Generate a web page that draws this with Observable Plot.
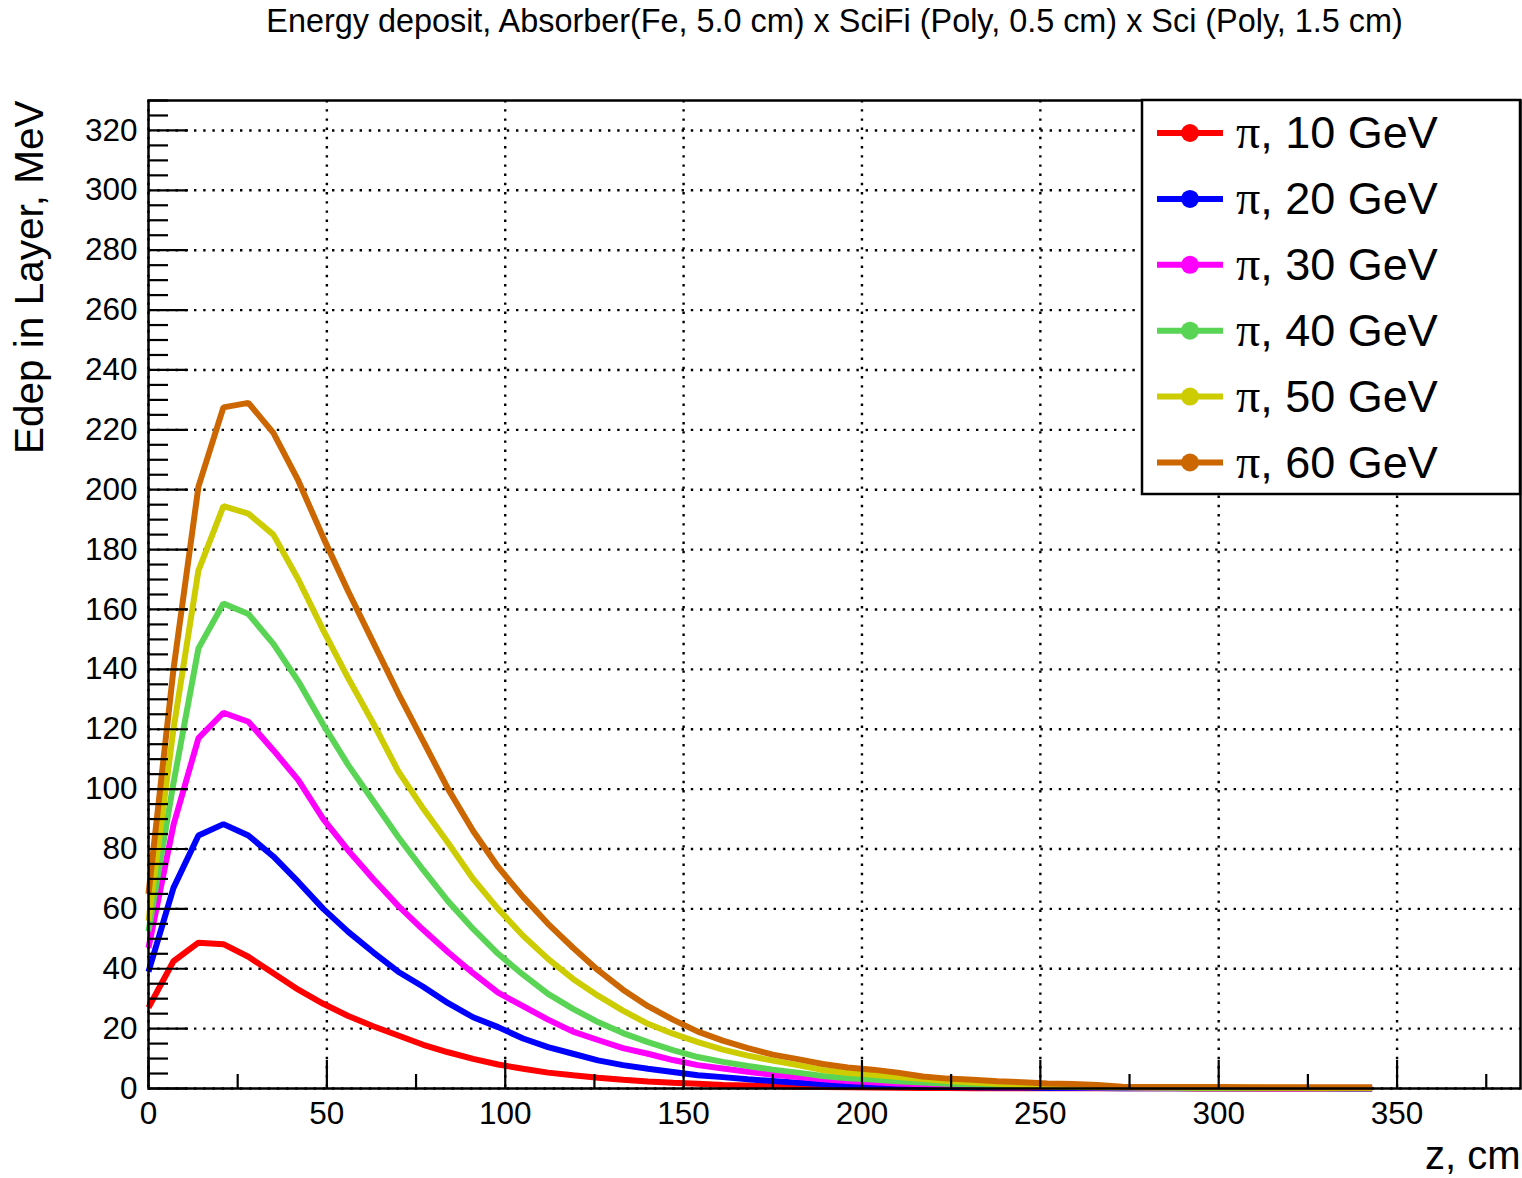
<!DOCTYPE html>
<html><head><meta charset="utf-8">
<script src="https://cdn.jsdelivr.net/npm/d3@7"></script>
<script src="https://cdn.jsdelivr.net/npm/@observablehq/plot@0.6"></script>
<style>
html,body{margin:0;padding:0;background:#fff;}
#chart{position:relative;width:1522px;height:1178px;}
</style></head><body><div id="chart"></div>
<script>
// ---- data ----
const z = [0,7,14,21,28,35,42,49,56,63,70,77,84,91,98,105,112,119,126,133,140,147,154,161,168,175,182,189,196,203,210,217,224,231,238,245,252,259,266,273,280,287,294,301,308,315,322,329,336,343];
const e10 = [27,42.5,48.7,48.2,44,38.5,33,28.3,24.2,20.8,17.7,14.6,12.1,9.9,8,6.6,5.3,4.4,3.6,2.9,2.3,1.9,1.6,1.2,1.0,0.8,0.6,0.5,0.4,0.3,0.25,0.2,0.15,0.12,0.1,0.1,0.08,0.08,0.06,0.06,0.05,0.05,0.04,0.04,0.03,0.03,0.03,0.02,0.02,0.02];
const e20 = [39,67,84.5,88.3,84.5,77.5,69,60,52.3,45.5,39,34,28.5,23.8,20.5,16.7,13.8,11.6,9.4,7.8,6.6,5.5,4.4,3.8,3.1,2.5,1.9,1.5,1.1,0.9,0.7,0.6,0.5,0.4,0.3,0.3,0.2,0.2,0.15,0.12,0.1,0.1,0.08,0.08,0.06,0.06,0.05,0.05,0.04,0.04];
const e30 = [47,88,117,125.5,122.5,113,103,90,79.5,70,61,53,45.5,38.5,32,27.5,23,19,16.2,13.5,11.6,9.5,7.8,6.7,5.6,4.6,3.8,3.1,2.5,2.1,1.7,1.4,1.1,0.9,0.7,0.6,0.5,0.4,0.3,0.3,0.2,0.2,0.2,0.15,0.15,0.1,0.1,0.1,0.1,0.1];
const e40 = [52.5,102,147,162,158.5,148.5,136,121.5,108,96,84,73,62.5,53.3,45,38,31.6,26.6,22.2,18.5,15.5,12.8,10.5,8.9,7.5,6.3,5.3,4.2,3.4,3.0,2.4,2.0,1.6,1.3,1.1,0.9,0.7,0.5,0.4,0.3,0.3,0.25,0.2,0.2,0.2,0.15,0.15,0.1,0.1,0.1];
const e50 = [56,120,173,194.5,192,185,170,153,137,122,106,93.5,82,70,60,51,43.3,36.6,31,26,21.6,18.3,15.5,13,11,9.3,7.8,6.2,5.2,4.6,3.8,3.2,2.5,2.0,1.6,1.2,1.0,0.8,0.6,0.5,0.4,0.4,0.3,0.3,0.3,0.25,0.25,0.2,0.2,0.2];
const e60 = [65,140,201,227.5,229,219,203,184,166,149,132,116,100,86,74,64,55,47,39.5,33,27.5,23,19,16,13.5,11.3,9.8,8.2,7,6.3,5.3,4,3.3,2.9,2.4,2.1,1.7,1.5,1.2,0.6,0.5,0.5,0.5,0.5,0.45,0.45,0.4,0.4,0.4,0.4];
const energies = ["10","20","30","40","50","60"];
const seriesList = [e10,e20,e30,e40,e50,e60];
const colors = ["#ff0000","#0000ff","#ff00ff","#59d454","#cccc00","#cc6600"];
const xMajor = [0,50,100,150,200,250,300,350];
const xMinor = [25,75,125,175,225,275,325,375];
const yMajor = [0,20,40,60,80,100,120,140,160,180,200,220,240,260,280,300,320];
const yMinor = d3.range(0, 331, 5).filter(v => v % 20 !== 0);
const titleText = "Energy deposit, Absorber(Fe, 5.0 cm) x SciFi (Poly, 0.5 cm) x Sci (Poly, 1.5 cm)";
const xTitle = "z, cm";
const yTitle = "Edep in Layer, MeV";

// ---- table ----
const rows = [];
seriesList.forEach((s, si) => s.forEach((v, i) => rows.push({z: z[i], v, e: energies[si]})));

// ---- layout ----
const W = 1522, H = 1178, mL = 148, mR = 2, mT = 100, mB = 90;
const fw = W - mL - mR, fh = H - mT - mB;
const font = "'Liberation Sans', Arial, Helvetica, sans-serif";
const grid = {stroke: "black", strokeOpacity: 1, strokeWidth: 2.4, strokeDasharray: "2.4,6.8"};

const chart = Plot.plot({
  width: W, height: H,
  marginLeft: mL, marginRight: mR, marginTop: mT, marginBottom: mB,
  style: {fontFamily: font, background: "white", color: "black", overflow: "visible"},
  x: {domain: [0, 384.6]},
  y: {domain: [0, 330]},
  color: {domain: energies, range: colors},
  marks: [
    Plot.gridX(xMajor, grid),
    Plot.gridY(yMajor, grid),
    Plot.line(rows, {x: "z", y: "v", z: "e", stroke: "e", strokeWidth: 6, strokeLinejoin: "miter", strokeLinecap: "butt", curve: "linear"}),
    Plot.tickX(xMajor, {x: d => d, stroke: "black", strokeWidth: 2.2, insetTop: fh - 28}),
    Plot.tickX(xMinor, {x: d => d, stroke: "black", strokeWidth: 2.2, insetTop: fh - 14}),
    Plot.tickY(yMajor, {y: d => d, stroke: "black", strokeWidth: 2.2, insetRight: fw - 40}),
    Plot.tickY(yMinor, {y: d => d, stroke: "black", strokeWidth: 2.2, insetRight: fw - 20}),
    Plot.frame({stroke: "black", strokeWidth: 2.5}),
    Plot.axisX(xMajor, {tickSize: 0, tickPadding: 13, fontSize: 31.5, label: null}),
    Plot.axisY(yMajor, {tickSize: 0, tickPadding: 11, fontSize: 31.5, label: null}),
    Plot.text([yTitle], {frameAnchor: "top-left", rotate: -90, textAnchor: "end", lineAnchor: "bottom", dx: -106, fontSize: 40.5}),
    Plot.text([xTitle], {frameAnchor: "bottom-right", textAnchor: "end", lineAnchor: "bottom", dy: 80, fontSize: 40}),
    Plot.text([titleText], {frameAnchor: "top", lineAnchor: "bottom", dy: -69, fontSize: 32.4})
  ]
});

// ---- legend (inside the frame, top-right) ----
const svg = d3.select(chart);
const lg = svg.append("g").attr("font-family", font).attr("text-anchor", "start");
lg.append("rect").attr("x", 1142).attr("y", 100).attr("width", 378).attr("height", 394)
  .attr("fill", "white").attr("stroke", "black").attr("stroke-width", 2.5);
energies.forEach((e, i) => {
  const cy = 133 + i * 65.9;
  lg.append("line").attr("x1", 1157).attr("x2", 1223).attr("y1", cy).attr("y2", cy)
    .attr("stroke", colors[i]).attr("stroke-width", 6);
  lg.append("circle").attr("cx", 1190).attr("cy", cy).attr("r", 9).attr("fill", colors[i]);
  const t = lg.append("text").attr("x", 1236).attr("y", cy + 15).attr("font-size", 45)
    .attr("text-anchor", "start").attr("fill", "black");
  t.append("tspan").attr("font-family", "'Liberation Serif', 'DejaVu Serif', serif").attr("font-size", 48).text("π");
  t.append("tspan").text(", " + e + " GeV");
});

document.getElementById("chart").appendChild(chart);
</script>
</body></html>
